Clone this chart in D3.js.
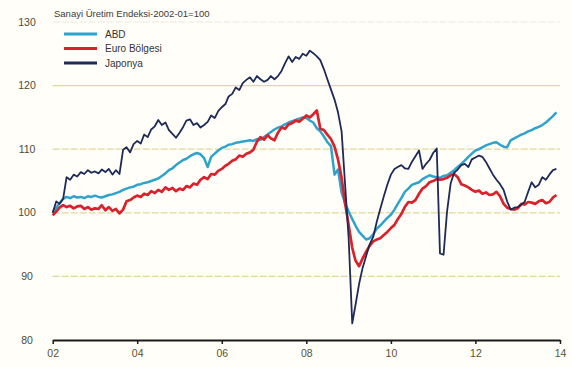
<!DOCTYPE html>
<html>
<head>
<meta charset="utf-8">
<script src="https://cdn.jsdelivr.net/npm/d3@7"></script>
<style>
  html, body { margin: 0; padding: 0; background: #fffef9; }
  svg { display: block; }
  text { font-family: "Liberation Sans Narrow", "Liberation Sans", Arial, sans-serif; }
</style>
</head>
<body>
<svg id="chart" width="572" height="367"></svg>
<script>
// Industrial production index, monthly from January 2002 (2002-01 = 100)
const startMonth = "2002-01";

const abdValues = [
  100, 100.8, 101.5, 102.2, 102.5, 102.3, 102.6, 102.4, 102.5, 102.3, 102.6, 102.5,
  102.7, 102.5, 102.4, 102.6, 102.8, 102.9, 103.1, 103.3, 103.6, 103.8, 104, 104.1,
  104.4, 104.5, 104.7, 104.8, 105, 105.2, 105.4, 105.8, 106.2, 106.7, 107, 107.5,
  107.9, 108.3, 108.5, 108.9, 109.2, 109.4, 109.2, 108.6, 107.2, 108.8, 109.3, 109.8,
  110.2, 110.4, 110.7, 110.8, 111, 111.1, 111.2, 111.3, 111.4, 111.3, 111.6, 111.5,
  111.9, 112.3, 112.7, 113.1, 113.4, 113.6, 113.9, 114.2, 114.4, 114.6, 114.8, 115,
  114.9, 114.5, 114.2, 113.3, 112.8, 112, 111.1, 110.5, 106, 106.8, 103.2, 101.5,
  100.2, 99, 98, 97, 96.4, 95.8, 96, 96.6, 97.5, 98, 98.6, 99.2,
  99.7, 100.5, 101.4, 102.3, 103.3, 103.8, 104.4, 104.6, 104.8, 105.3, 105.6, 105.9,
  105.7, 105.6, 105.5, 105.8, 105.9, 106.3, 106.7, 107.2, 107.7, 108.2, 108.8, 109.3,
  109.8, 110, 110.3, 110.6, 110.8, 111, 111.1, 110.7, 110.4, 110.3, 111.4, 111.7,
  112, 112.3, 112.5, 112.8, 113, 113.3, 113.5, 113.8, 114.2, 114.7, 115.2, 115.8
];

const euroValues = [
  99.6, 100.2, 100.8, 101.2, 100.9, 101.1, 100.7, 101, 101.1, 100.6, 100.9, 100.5,
  100.7, 100.6, 101.2, 100.4, 100.9, 100.3, 100.6, 99.9, 100.5, 101.8, 102, 102.4,
  102.7, 102.5, 103, 102.8, 103.4, 103.1, 103.6, 103.3, 104, 103.6, 103.9, 103.4,
  103.8, 103.6, 104.2, 104, 104.6, 104.4, 105.2, 105.6, 105.3, 106.1, 106, 106.6,
  106.9, 107.4, 107.7, 108.2, 108.4, 109, 108.8, 109.3, 109.5, 109.9, 111.2, 111.9,
  111.5, 112.2, 111.7, 111.4, 112.6, 113.4, 113.2, 113.9, 114.1, 114.5, 114.3, 114.8,
  115.3, 115, 115.5, 116.1, 113.2, 113, 112.3, 111.6, 110.4, 108.4, 105.5, 101.5,
  98.1, 94.5, 92.5, 91.6, 92.8, 93.9, 94.8, 95.5, 95.8, 96, 96.5, 97,
  97.6, 98.1, 99, 99.8, 100.9, 101.7, 101.6, 102, 103, 103.8, 104.2, 104.8,
  105, 105.3, 105.2, 105.3, 105.5, 105.9, 106.1, 105.6, 104.5, 104.3, 104, 103.6,
  103.3, 103.5, 103, 103.2, 102.8, 102.9, 103.3, 102.6, 101.4, 100.8, 100.6, 100.5,
  100.7, 101.4, 101.3, 101.7, 101.6, 101.4, 101.8, 102, 101.5, 101.7, 102.4, 102.8
];

const japonyaValues = [
  100, 101.8, 101.4, 102.2, 105.6, 105.2, 106, 105.7, 106.4, 106.1, 106.7, 106.3,
  106.5, 106.2, 106.8, 106.4, 106.9, 106, 106.7, 106.1, 109.9, 110.3, 109.5, 110.8,
  111.3, 110.9, 112.3, 111.9, 113.1, 113.6, 114.6, 113.8, 114.2, 113, 112.4, 111.8,
  112.6, 113.5, 114.5, 114.7, 113.8, 114.1, 113.4, 113.8, 114.3, 115.3, 114.9, 116,
  116.6, 117.1, 118.3, 118.7, 119.7, 119.3, 120.4, 120.9, 121.3, 120.6, 121.5, 121,
  120.6, 120.9, 121.5, 121, 121.5, 122.3, 123.5, 124.6, 123.7, 124.5, 124.2, 125,
  124.7, 125.5, 125.1, 124.6, 124, 122.6, 121, 119.4, 117.8, 115.8, 112.8, 104.5,
  96, 82.6, 85.5, 88.8, 91.3, 93.2, 95, 96.2, 98.6, 100.6, 102.6, 104.4,
  106, 106.9, 107.2, 107.5, 107, 106.9, 108, 108.9, 109.8, 106.9, 107.7, 108.3,
  109.4, 110.1, 93.6, 93.4, 100.2, 104.6, 106.3, 106.8, 107.5, 107.7, 107.2, 108.4,
  108.7, 109, 108.8, 108, 107, 106, 105.2, 104.5, 103.6, 101.8, 100.5, 100.8,
  100.9, 101.3, 101.7, 103.3, 104.8, 104, 104.4, 105.6, 105.2, 106, 106.7, 106.9
];

const seriesNames = ["ABD", "Euro Bölgesi", "Japonya"];
const yTickValues = [80, 90, 100, 110, 120, 130];
const xTickYears = [2002, 2004, 2006, 2008, 2010, 2012, 2014];
const xTickLabels = ["02", "04", "06", "08", "10", "12", "14"];
const titleText = "Sanayi Üretim Endeksi-2002-01=100";

// ---- layout and styling ----
const svg = d3.select("#chart");
const colors = { "ABD": "#2fa3cb", "Euro Bölgesi": "#d9222b", "Japonya": "#1e2a57" };
const widths = { "ABD": 2.5, "Euro Bölgesi": 2.7, "Japonya": 1.8 };

const parseMonth = d3.timeParse("%Y-%m");
const firstDate = parseMonth(startMonth);
const dates = abdValues.map((_, i) => d3.timeMonth.offset(firstDate, i));

const x = d3.scaleTime()
  .domain([new Date(2002, 0, 1), new Date(2014, 0, 1)])
  .range([52.7, 560]);
const y = d3.scaleLinear().domain([80, 130]).range([340, 22]);

// background grid
svg.append("g")
  .selectAll("line")
  .data(yTickValues.filter(v => v > 80))
  .join("line")
  .attr("x1", x.range()[0])
  .attr("x2", x.range()[1])
  .attr("y1", d => y(d))
  .attr("y2", d => y(d))
  .attr("stroke", d => d === 130 ? "#ece9dc" : "#e2d89c")
  .attr("stroke-width", 1.2)
  .attr("stroke-dasharray", d => d === 120 ? null : "7,2");

// y labels
svg.append("g")
  .selectAll("text")
  .data(yTickValues)
  .join("text")
  .attr("x", 27)
  .attr("y", d => y(d))
  .attr("dy", "0.35em")
  .attr("text-anchor", "middle")
  .attr("font-size", 10.5)
  .attr("fill", "#4d4a38")
  .text(d => d);

// x axis
const xAxis = d3.axisBottom(x)
  .tickValues(xTickYears.map(yr => new Date(yr, 0, 1)))
  .tickFormat((d, i) => xTickLabels[i])
  .tickSize(4)
  .tickSizeOuter(0);

const gx = svg.append("g")
  .attr("transform", `translate(0,${y(80)})`)
  .call(xAxis);
gx.select(".domain").attr("stroke", "#1a1a1a").attr("stroke-width", 1.8);
gx.selectAll(".tick line").attr("stroke", "#1a1a1a").attr("stroke-width", 1.5);
gx.selectAll(".tick text")
  .attr("font-size", 10.5)
  .attr("fill", "#5a5330")
  .attr("dy", "0.95em")
  .style("font-family", "\"Liberation Sans Narrow\", \"Liberation Sans\", Arial, sans-serif");

// series lines
const series = [
  { name: "ABD", values: abdValues },
  { name: "Euro Bölgesi", values: euroValues },
  { name: "Japonya", values: japonyaValues }
];

const line = d3.line()
  .x((d, i) => x(dates[i]))
  .y(d => y(d));

svg.append("g")
  .selectAll("path")
  .data(series)
  .join("path")
  .attr("fill", "none")
  .attr("stroke", d => colors[d.name])
  .attr("stroke-width", d => widths[d.name])
  .attr("stroke-linejoin", "round")
  .attr("d", d => line(d.values));

// title
svg.append("text")
  .attr("x", 54)
  .attr("y", 17)
  .attr("font-size", 9.5)
  .attr("fill", "#3a3a3a")
  .text(titleText);

// legend
const legend = svg.append("g")
  .selectAll("g")
  .data(seriesNames)
  .join("g")
  .attr("transform", (d, i) => `translate(64,${34 + i * 14.5})`);

legend.append("line")
  .attr("x1", 0).attr("x2", 33)
  .attr("y1", 0).attr("y2", 0)
  .attr("stroke", d => colors[d])
  .attr("stroke-width", 2.8);

legend.append("text")
  .attr("x", 41)
  .attr("y", 0)
  .attr("dy", "0.35em")
  .attr("font-size", 10)
  .attr("fill", "#333")
  .text(d => d);
</script>
</body>
</html>
